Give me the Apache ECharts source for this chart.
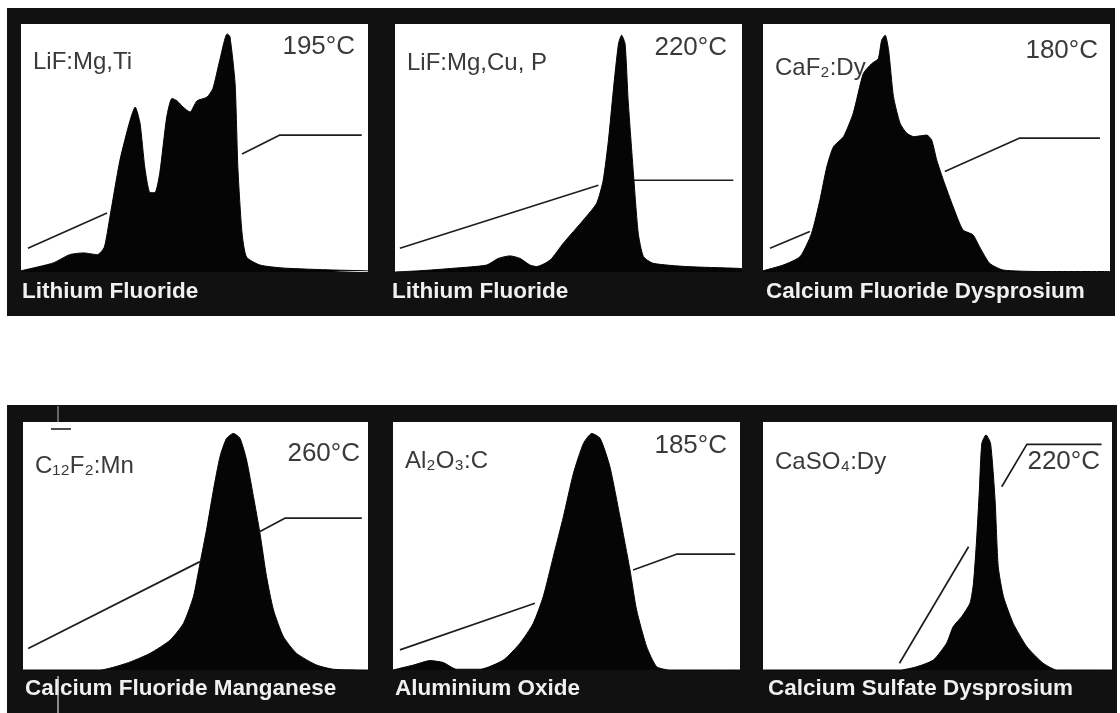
<!DOCTYPE html>
<html><head><meta charset="utf-8">
<script src="https://cdn.jsdelivr.net/npm/echarts@6/dist/echarts.min.js"></script>
<style>html,body{margin:0;padding:0;background:#fff;}#c{width:1120px;height:713px;}</style>
</head><body><div id="c"></div>
<script>
// ---- data (x: relative channel 0-100, y: relative TL intensity / temperature 0-100) ----
const materials = ['LiF:Mg,Ti', 'LiF:Mg,Cu, P', 'CaF₂:Dy', 'C₁₂F₂:Mn', 'Al₂O₃:C', 'CaSO₄:Dy'];
const names = ['Lithium Fluoride', 'Lithium Fluoride', 'Calcium Fluoride Dysprosium',
  'Calcium Fluoride Manganese', 'Aluminium Oxide', 'Calcium Sulfate Dysprosium'];
const peakTemps = ['195°C', '220°C', '180°C', '260°C', '185°C', '220°C'];

const glow1 = [[0,0.5],[9.2,3.6],[14,7],[18,7.7],[22,7],[24,10],[25.6,22],[28.5,45],[31.4,61],[32.9,66.5],[34.3,60],[35.7,42],[37.2,32],[38.6,32],[40,40],[42,62.5],[43.5,70],[45,69],[46.7,66.5],[48.7,64.5],[50.7,69],[53.6,70.5],[55.3,74],[57.3,85.5],[59.4,96],[60.2,95],[61.7,76],[62.5,42],[63.7,15.7],[65,6],[68.9,2.8],[75.5,1.6],[90,0.8],[100,0.5]];
const glow2 = [[0,0],[7.2,0.5],[16.8,1.5],[26.4,2.8],[29.8,5.5],[33.1,6.5],[36,5.5],[38.9,2.8],[40.8,2.2],[44.7,4.8],[48.5,11.6],[54.3,21],[58.1,27.7],[60,37],[61.5,53],[62.9,73],[64.4,92],[65.3,95.5],[66.3,92],[67.2,69],[68.7,40],[70.1,15.6],[71.6,6.2],[74.4,3.5],[84,2.2],[98.5,1.5],[100,1.4]];
const glow3 = [[0,0.5],[5.8,2.8],[10.7,6.2],[14,15.6],[16.4,29],[18.4,42.5],[20.3,50.5],[23.2,54.6],[26,64],[28.9,80],[31.3,84],[33.2,86],[34.2,93.5],[35.2,95.5],[36.2,89.5],[37.6,70.7],[39.5,60],[41.4,56],[43.4,54.6],[47.2,55.2],[48.6,53.2],[50.1,45],[52,37],[54.8,26.3],[57.6,17],[60.5,15],[62.4,10.2],[65.3,3.5],[69.2,0.8],[79.8,0.2],[100,0.2]];
const glow4 = [[0,0],[22.3,0],[30,2.7],[36.8,6.7],[42.6,12],[46.5,18.8],[49.4,29.6],[51.3,43],[53.2,56.5],[55.2,72.6],[57.1,86],[59,93.4],[61,95.4],[62.9,93.4],[64.8,84.7],[66.8,69.9],[68.7,55],[70.6,37.6],[72.6,24.2],[75.5,13.4],[79.3,6.7],[85.1,2],[90,0.3],[100,0]];
const glow5 = [[0,0],[5.9,2],[10.7,3.8],[14.5,3],[18.3,0.3],[25.1,0.3],[31.8,4],[36.6,10.8],[40.4,18.8],[43.3,29.6],[46.2,45.7],[49.1,61.8],[52,79.3],[54.9,91.4],[57.3,95.4],[59.7,93.4],[62.5,82],[65.4,61.8],[68.3,40.3],[70.2,24.2],[73.1,9.4],[76,1.3],[79.8,0],[100,0]];
const glow6 = [[0,0],[39.3,0],[44,1.3],[48.8,4],[52.6,10.8],[54.5,17.5],[56.9,21.5],[59.3,26.9],[60.3,35],[61.2,52.4],[62,72.6],[62.7,91.4],[63.9,94.8],[65.2,91.4],[66.5,68.5],[67.4,41.7],[68.9,29.6],[71.7,18.8],[75.6,9.4],[80.3,2.7],[84.2,0],[100,0]];

// heating profile: visible pieces (the part behind each glow peak is hidden)
const heat1a = [[2,9.6],[24.8,23.8]];
const heat1b = [[63.7,47.6],[74.6,55.2],[98.2,55.2]];
const heat2a = [[1.4,9.6],[58.6,35]];
const heat2b = [[68.7,37],[97.5,37]];
const heat3a = [[2,9.6],[13.5,16.3]];
const heat3b = [[52.4,40.5],[74,54],[97.1,54]];
const heat4a = [[1.5,8.7],[51.3,43.7]];
const heat4b = [[68.7,55.8],[75.9,61.2],[98.2,61.2]];
const heat5a = [[2,8.1],[40.9,26.9]];
const heat5b = [[69.2,40.3],[81.7,46.7],[98.6,46.7]];
const heat6a = [[39.1,2.7],[58.9,49.7]];
const heat6b = [[68.4,73.9],[75.6,91],[97,91]];

const glows = [glow1, glow2, glow3, glow4, glow5, glow6];
const heats = [[heat1a, heat1b], [heat2a, heat2b], [heat3a, heat3b], [heat4a, heat4b], [heat5a, heat5b], [heat6a, heat6b]];

// ---- layout (pixels) ----
const plotBoxes = [
  {left: 21, top: 24, width: 347, height: 248},
  {left: 395, top: 24, width: 347, height: 248},
  {left: 763, top: 24, width: 347, height: 248},
  {left: 23, top: 422, width: 345, height: 248},
  {left: 393, top: 422, width: 347, height: 248},
  {left: 763, top: 422, width: 349, height: 248}
];
const frames = [
  {x: 7, y: 8, w: 1108, h: 308},
  {x: 7, y: 405, w: 1110, h: 308}
];
const labelDy = [38, 39, 44, 44, 39, 40];
const tempDy = [23, 24, 27, 32, 24, 40];
const tempDx = [13, 15, 12, 8, 13, 12];
const nameDx = [1, -3, 3, 2, 2, 5];
const nameDy = [20, 20, 20, 19, 19, 19];

const grids = [], xAxes = [], yAxes = [], series = [], graphics = [];
frames.forEach(f => graphics.push({type: 'rect', z: -10, shape: {x: f.x, y: f.y, width: f.w, height: f.h}, style: {fill: '#111111'}}));
plotBoxes.forEach((b, i) => {
  grids.push({left: b.left, top: b.top, width: b.width, height: b.height, show: true, backgroundColor: '#ffffff', borderWidth: 0});
  xAxes.push({type: 'value', gridIndex: i, min: 0, max: 100, show: false});
  yAxes.push({type: 'value', gridIndex: i, min: 0, max: 100, show: false});
  heats[i].forEach(seg => series.push({type: 'line', xAxisIndex: i, yAxisIndex: i, data: seg, symbol: 'none', z: 2,
    lineStyle: {color: '#1e1e1e', width: 1.7}, silent: true, animation: false}));
  series.push({type: 'line', xAxisIndex: i, yAxisIndex: i, data: glows[i], symbol: 'none', z: 3,
    smooth: 0.2, lineStyle: {color: '#050505', width: 1}, areaStyle: {color: '#050505', opacity: 1},
    silent: true, animation: false});
  graphics.push({type: 'text', z: 100, x: b.left + 12, y: b.top + labelDy[i],
    style: {text: materials[i], fill: '#3a3a3a', font: '24px "Liberation Sans", "DejaVu Sans", sans-serif', align: 'left', verticalAlign: 'middle'}});
  graphics.push({type: 'text', z: 100, x: b.left + b.width - tempDx[i], y: b.top + tempDy[i],
    style: {text: peakTemps[i], fill: '#3a3a3a', font: '26px "Liberation Sans", "DejaVu Sans", sans-serif', align: 'right', verticalAlign: 'middle'}});
  graphics.push({type: 'text', z: 100, x: b.left + nameDx[i], y: b.top + b.height + nameDy[i],
    style: {text: names[i], fill: '#f0f0f0', font: 'bold 22.5px "Liberation Sans", "DejaVu Sans", sans-serif', align: 'left', verticalAlign: 'middle'}});
});
// small scan marks on the lower-left panel
graphics.push({type: 'line', z: 100, shape: {x1: 51, y1: 429, x2: 71, y2: 429}, style: {stroke: '#111', lineWidth: 1.5}});
graphics.push({type: 'line', z: 100, shape: {x1: 58, y1: 406, x2: 58, y2: 422}, style: {stroke: '#bbb', lineWidth: 1}});
graphics.push({type: 'line', z: 100, shape: {x1: 58, y1: 676, x2: 58, y2: 713}, style: {stroke: '#ddd', lineWidth: 1.2}});

const chart = echarts.init(document.getElementById('c'), null, {renderer: 'canvas'});
chart.setOption({
  animation: false,
  backgroundColor: '#ffffff',
  grid: grids, xAxis: xAxes, yAxis: yAxes, series: series,
  graphic: {elements: graphics}
});
</script></body></html>
